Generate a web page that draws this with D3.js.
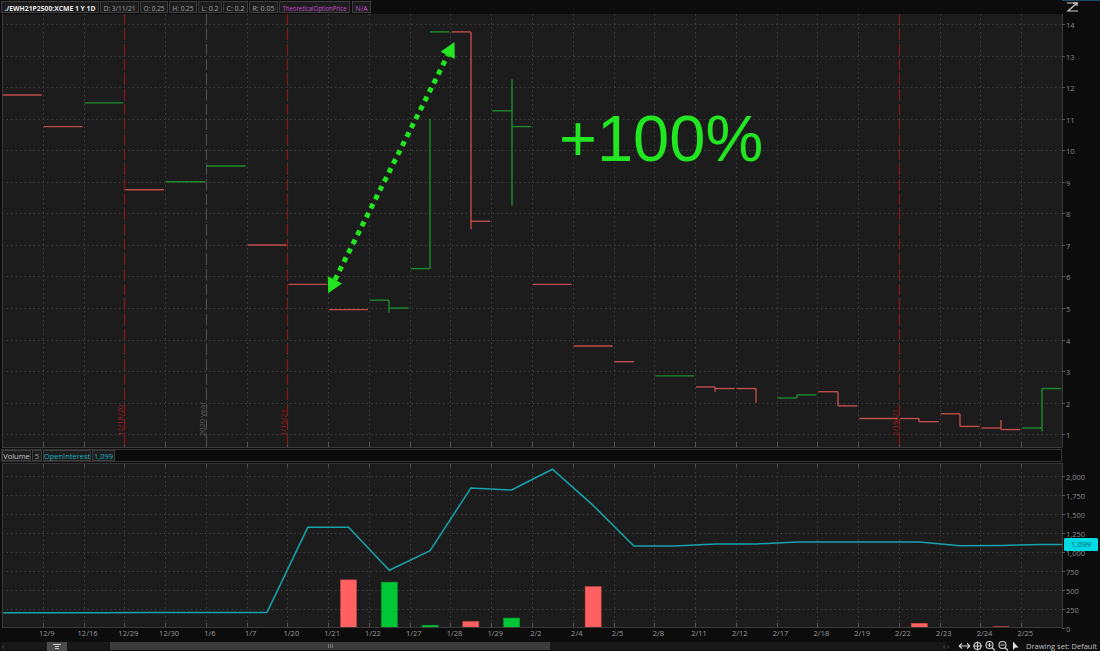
<!DOCTYPE html>
<html><head><meta charset="utf-8">
<script src="https://cdn.jsdelivr.net/npm/d3@7"></script>
<style>
body{margin:0;background:#0c0c0c;}
svg{display:block;font-family:"Open Sans","DejaVu Sans",sans-serif;}
</style>
</head><body>
<svg id="c" width="1100" height="651"></svg>
<script>
// ---------- DATA ----------
const dates = ["", "12/9","12/16","12/29","12/30","1/6","1/7","1/20","1/21","1/22","1/27","1/28","1/29","2/2","2/4","2/5","2/8","2/11","2/12","2/17","2/18","2/19","2/22","2/23","2/24","2/25"];
const opens  = [11.75,10.75,11.5,8.75,9.0,9.5,7.0,5.75,4.95,5.25,6.25,13.75,11.25,5.75,3.8,3.3,2.85,2.5,2.45,2.15,2.35,1.5,1.5,1.65,1.2,1.2];
const highs  = [11.75,10.75,11.5,8.75,9.0,9.5,7.0,5.75,4.95,5.25,11.0,13.75,12.25,5.75,3.8,3.3,2.85,2.5,2.45,2.25,2.35,1.5,1.5,1.65,1.45,2.45];
const lows   = [11.75,10.75,11.5,8.75,9.0,9.5,7.0,5.75,4.95,4.85,6.25,7.5,8.25,5.75,3.8,3.3,2.85,2.35,2.0,2.15,1.9,1.5,1.4,1.25,1.15,1.1];
const closes = [11.75,10.75,11.5,8.75,9.0,9.5,7.0,5.75,4.95,5.0,13.75,7.75,10.75,5.75,3.8,null,2.85,2.45,null,2.25,1.9,1.5,1.4,1.25,1.15,2.45];
const upDay  = [0,0,1,0,1,1,0,0,0,1,1,0,1,0,0,0,1,0,0,1,0,0,0,0,0,1];
const volumes = [0,0,0,0,0,0,0,0,630,600,30,80,125,0,540,0,0,0,0,0,0,0,55,0,10,0];
const openInterest = [195,195,195,198,200,200,200,1325,1325,757,1016,1845,1819,2093,1615,1078,1078,1105,1105,1130,1130,1130,1130,1080,1085,1099];
const priceTicks = [1,2,3,4,5,6,7,8,9,10,11,12,13,14];
const volumeTicks = [0,250,500,750,1000,1250,1500,1750,2000];
const markerBoundaries = [3,5,7,22];
const markerLabels = ["12/18/20","2020 year","1/15/21","2/19/21"];
const markerKinds = ["exp","year","exp","exp"];
const arrowFrom = {slot:8, value:5.47};
const arrowTo = {slot:11, value:13.43};

// ---------- SETUP ----------
const svg = d3.select("#c");
const W = 1100, H = 651;
const plotL = 2, plotR = 1062;
const mainTop = 14, mainBot = 447;
const volTop = 463, volBot = 627;

const idx = d3.range(dates.length);
const x = d3.scaleBand().domain(idx).range([plotL, plotR]).padding(0);
const bw = x.bandwidth();
const y = d3.scaleLinear().domain([1,14]).range([434.3, 24]);
const yv = d3.scaleLinear().domain([0,2000]).range([627.5, 476.3]);

const RED = "#c04c4c", GREEN = "#1c8c2c";
const VRED = "#ff6161", VGREEN = "#00c736";

svg.append("rect").attr("width",W).attr("height",H).attr("fill","#0c0c0c");

// ---------- HEADER ----------
const hdr = svg.append("g");
const hdrItems = [
  {t:"./EWH21P2500:XCME 1 Y 1D", x0:1, x1:99, c:"#e8e8e8", b:true, fs:7.6},
  {t:"D: 3/11/21", x0:100, x1:139, c:"#a0a0a0", fs:7.6},
  {t:"O: 0.25", x0:140, x1:168, c:"#a0a0a0", fs:7.6},
  {t:"H: 0.25", x0:169, x1:197, c:"#a0a0a0", fs:7.6},
  {t:"L: 0.2", x0:198, x1:222, c:"#a0a0a0", fs:7.6},
  {t:"C: 0.2", x0:223, x1:248, c:"#a0a0a0", fs:7.6},
  {t:"R: 0.05", x0:249, x1:278, c:"#a0a0a0", fs:7.6},
  {t:"TheoreticalOptionPrice", x0:279, x1:350, c:"#c84fd0", fs:6.8},
  {t:"N/A", x0:352, x1:371, c:"#c84fd0", fs:7.6}
];
hdrItems.forEach(d=>{
  hdr.append("rect").attr("x",d.x0+0.5).attr("y",1.5).attr("width",d.x1-d.x0-1).attr("height",11)
    .attr("fill","#1d1d1d").attr("stroke","#3c3c3c");
  hdr.append("text").attr("x",(d.x0+d.x1)/2).attr("y",10.5).attr("text-anchor","middle")
    .attr("font-size", d.fs).attr("font-weight", d.b?"bold":"normal").attr("fill",d.c)
    .attr("textLength", d.x1-d.x0-7).attr("lengthAdjust","spacingAndGlyphs").text(d.t);
});
const ic = svg.append("g").attr("stroke","#cfcfcf").attr("stroke-width",1.2).attr("fill","none");
ic.append("path").attr("d","M1067,3 H1077 L1068,11 H1078");
ic.append("path").attr("d","M1073,3 H1077 V6");
svg.append("line").attr("x1",1062).attr("x2",1100).attr("y1",0.5).attr("y2",0.5).attr("stroke","#1d4c66");

// ---------- MAIN PANEL ----------
svg.append("rect").attr("x",plotL).attr("y",mainTop).attr("width",plotR-plotL).attr("height",mainBot-mainTop)
  .attr("fill","#1c1c1c");
const grid = svg.append("g").attr("stroke","#3f3f3f").attr("stroke-dasharray","1.5 3").attr("stroke-width",1);
priceTicks.forEach(v=>{
  grid.append("line").attr("x1",plotL).attr("x2",plotR).attr("y1",Math.round(y(v))+0.5).attr("y2",Math.round(y(v))+0.5);
});
idx.slice(1).forEach(i=>{
  grid.append("line").attr("x1",Math.round(x(i))+0.5).attr("x2",Math.round(x(i))+0.5).attr("y1",mainTop).attr("y2",mainBot);
});
idx.slice(1).forEach(i=>{
  svg.append("line").attr("x1",Math.round(x(i))+0.5).attr("x2",Math.round(x(i))+0.5).attr("y1",mainBot-5).attr("y2",mainBot)
    .attr("stroke","#555");
});

markerBoundaries.forEach((b,k)=>{
  const xx = Math.round(x(b))+0.5;
  const exp = markerKinds[k]==="exp";
  svg.append("line").attr("x1",xx).attr("x2",xx).attr("y1",mainTop).attr("y2",mainBot)
    .attr("stroke",exp ? "#8a1616" : "#4c4c4c").attr("stroke-width",1.2).attr("stroke-dasharray","11 4");
  svg.append("text").attr("transform",`translate(${xx-2},436) rotate(-90)`)
    .attr("font-size",7.5).attr("fill", exp ? "#9a1c1c" : "#5e5e5e").text(markerLabels[k]);
});

const bars = svg.append("g").attr("stroke-width",1.4).attr("fill","none");
idx.forEach(i=>{
  const x0 = x(i), mid = Math.round(x0 + bw/2), col = upDay[i] ? GREEN : RED;
  const o = opens[i], c = closes[i], h = highs[i], l = lows[i];
  if (c !== null && o === c && h === l) {
    bars.append("line").attr("x1",x0+1).attr("x2",x0+bw-1).attr("y1",y(o)).attr("y2",y(o)).attr("stroke",col);
    return;
  }
  bars.append("line").attr("x1",x0+1).attr("x2",mid).attr("y1",y(o)).attr("y2",y(o)).attr("stroke",col);
  if (h !== l) bars.append("line").attr("x1",mid).attr("x2",mid).attr("y1",y(h)).attr("y2",y(l)).attr("stroke",col);
  if (c !== null) bars.append("line").attr("x1",mid).attr("x2",x0+bw-1).attr("y1",y(c)).attr("y2",y(c)).attr("stroke",col);
});

const AG = "#22e622";
const p1 = [x(arrowFrom.slot), y(arrowFrom.value)], p2 = [x(arrowTo.slot)+4, y(arrowTo.value)];
const dx = p2[0]-p1[0], dy = p2[1]-p1[1], L = Math.hypot(dx,dy), ux = dx/L, uy = dy/L, nx = -uy, ny = ux;
const ah = 15, aw = 8;
svg.append("line").attr("x1",p1[0]+ux*ah).attr("y1",p1[1]+uy*ah).attr("x2",p2[0]-ux*ah).attr("y2",p2[1]-uy*ah)
  .attr("stroke",AG).attr("stroke-width",5).attr("stroke-dasharray","5 5");
function head(tip, dir){
  const bx = tip[0]-dir[0]*ah, by = tip[1]-dir[1]*ah;
  svg.append("polygon").attr("points",[[tip[0],tip[1]],[bx+nx*aw,by+ny*aw],[bx-nx*aw,by-ny*aw]].map(p=>p.join(",")).join(" "))
    .attr("fill",AG);
}
head(p2,[ux,uy]);
head(p1,[-ux,-uy]);

svg.append("text").attr("x",559).attr("y",161).attr("font-family","'Liberation Sans',Arial,sans-serif")
  .attr("font-size",65).attr("fill",AG).text("+100%");

svg.append("line").attr("x1",plotR+0.5).attr("x2",plotR+0.5).attr("y1",mainTop).attr("y2",mainBot).attr("stroke","#3a3a3a");
priceTicks.forEach(v=>{
  const yy = Math.round(y(v))+0.5;
  svg.append("line").attr("x1",plotR).attr("x2",plotR+3).attr("y1",yy).attr("y2",yy).attr("stroke","#555");
  svg.append("text").attr("x",plotR+4).attr("y",yy+3).attr("font-size",7.5).attr("fill","#8a8a8a").text(v);
});
svg.append("line").attr("x1",plotL).attr("x2",plotR).attr("y1",mainBot+0.5).attr("y2",mainBot+0.5).attr("stroke","#3a3a3a");
svg.append("line").attr("x1",plotL+0.5).attr("x2",plotL+0.5).attr("y1",mainTop).attr("y2",mainBot).attr("stroke","#3a3a3a");

// ---------- VOLUME HEADER ----------
svg.append("rect").attr("x",1.5).attr("y",449.5).attr("width",plotR-2).attr("height",12).attr("fill","#0b0b0b").attr("stroke","#333");
const vh = [
  {t:"Volume", x0:2, x1:31, c:"#c8c8c8"},
  {t:"5", x0:32, x1:42, c:"#a0a0a0"},
  {t:"OpenInterest", x0:43, x1:91, c:"#19b2bd"},
  {t:"1,099", x0:92, x1:115, c:"#19b2bd"}
];
vh.forEach(d=>{
  svg.append("rect").attr("x",d.x0+0.5).attr("y",450.5).attr("width",d.x1-d.x0-1).attr("height",10)
    .attr("fill","#1d1d1d").attr("stroke","#3c3c3c");
  svg.append("text").attr("x",(d.x0+d.x1)/2).attr("y",458.5).attr("text-anchor","middle").attr("font-size",7.5)
    .attr("fill",d.c).text(d.t);
});

// ---------- VOLUME PANEL ----------
svg.append("rect").attr("x",plotL).attr("y",volTop).attr("width",plotR-plotL).attr("height",volBot-volTop).attr("fill","#1c1c1c");
const vgrid = svg.append("g").attr("stroke","#3f3f3f").attr("stroke-dasharray","1.5 3");
volumeTicks.slice(1).forEach(v=>{
  vgrid.append("line").attr("x1",plotL).attr("x2",plotR).attr("y1",Math.round(yv(v))+0.5).attr("y2",Math.round(yv(v))+0.5);
});
idx.slice(1).forEach(i=>{
  vgrid.append("line").attr("x1",Math.round(x(i))+0.5).attr("x2",Math.round(x(i))+0.5).attr("y1",volTop).attr("y2",volBot);
  svg.append("line").attr("x1",Math.round(x(i))+0.5).attr("x2",Math.round(x(i))+0.5).attr("y1",volTop).attr("y2",volTop+4).attr("stroke","#555");
  svg.append("line").attr("x1",Math.round(x(i))+0.5).attr("x2",Math.round(x(i))+0.5).attr("y1",volBot-4).attr("y2",volBot).attr("stroke","#555");
});
idx.forEach(i=>{
  if (!volumes[i]) return;
  const cx = x(i)+bw/2, w = 16;
  const top = yv(volumes[i]);
  svg.append("rect").attr("x",cx-w/2).attr("y",top).attr("width",w).attr("height",yv(0)-top)
    .attr("fill",upDay[i]?VGREEN:VRED).attr("stroke",upDay[i]?"#00a02a":"#d04848").attr("stroke-width",0.6);
});
const oiPts = [[x(0), openInterest[0]]].concat(idx.map(i=>[x(i)+bw/2, openInterest[i]]))
  .concat([[plotR, openInterest[openInterest.length-1]]]);
svg.append("path").attr("d", d3.line().x(d=>d[0]).y(d=>yv(d[1]))(oiPts))
  .attr("fill","none").attr("stroke","#17a2ac").attr("stroke-width",1.5);

svg.append("line").attr("x1",plotR+0.5).attr("x2",plotR+0.5).attr("y1",volTop).attr("y2",volBot).attr("stroke","#3a3a3a");
volumeTicks.forEach(v=>{
  const yy = Math.round(yv(v))+0.5;
  svg.append("line").attr("x1",plotR).attr("x2",plotR+3).attr("y1",yy).attr("y2",yy).attr("stroke","#555");
  svg.append("text").attr("x",plotR+4).attr("y",yy+3).attr("font-size",7.5).attr("fill","#8a8a8a").text(d3.format(",")(v));
});
const lastOI = openInterest[openInterest.length-1];
svg.append("rect").attr("x",plotR+2).attr("y",yv(lastOI)-6.5).attr("width",34).attr("height",13).attr("rx",1.5).attr("fill","#00dbe3");
svg.append("text").attr("x",plotR+19).attr("y",yv(lastOI)+3).attr("text-anchor","middle").attr("font-size",8)
  .attr("fill","#0a5e78").text(d3.format(",")(lastOI));
svg.append("line").attr("x1",plotL).attr("x2",plotR).attr("y1",volBot+0.5).attr("y2",volBot+0.5).attr("stroke","#3a3a3a");
svg.append("line").attr("x1",plotL+0.5).attr("x2",plotL+0.5).attr("y1",volTop).attr("y2",volBot).attr("stroke","#3a3a3a");
svg.append("line").attr("x1",plotL).attr("x2",plotR).attr("y1",volTop+0.5).attr("y2",volTop+0.5).attr("stroke","#333");

// ---------- DATE AXIS ----------
idx.forEach(i=>{
  if (!dates[i]) return;
  svg.append("text").attr("x",x(i)+4).attr("y",636).attr("text-anchor","middle").attr("font-size",7.5)
    .attr("fill","#9c9c9c").text(dates[i]);
});

// ---------- SCROLL BAR / TOOLBAR ----------
svg.append("rect").attr("x",0).attr("y",641).attr("width",W).attr("height",10).attr("fill","#0e0e0e");
svg.append("rect").attr("x",1).attr("y",642).attr("width",945).attr("height",8).attr("fill","#181818");
svg.append("text").attr("x",2).attr("y",649).attr("font-size",7).attr("fill","#666").text("‹");
svg.append("rect").attr("x",47).attr("y",642).attr("width",20).attr("height",9).attr("fill","#4b4b4b");
svg.append("path").attr("d","M53,644.5 H61 M55,646.5 H59 M55,648.5 H59").attr("stroke","#d0d0d0").attr("stroke-width",1);
svg.append("rect").attr("x",110).attr("y",642).attr("width",440).attr("height",8).attr("fill","#3b3b3b");
svg.append("path").attr("d","M328.5,644 V648 M330.5,644 V648 M332.5,644 V648").attr("stroke","#777");
svg.append("text").attr("x",943).attr("y",649).attr("font-size",7).attr("fill","#777").text("‹  ›");
const tb = svg.append("g").attr("stroke","#cfcfcf").attr("fill","none").attr("stroke-width",1.1);
tb.append("path").attr("d","M959,646 H970 M959,646 l3,-2.5 M959,646 l3,2.5 M970,646 l-3,-2.5 M970,646 l-3,2.5");
tb.append("circle").attr("cx",977.5).attr("cy",646).attr("r",3.5);
tb.append("path").attr("d","M977.5,641.5 V650.5 M973,646 H982");
tb.append("circle").attr("cx",989.5).attr("cy",645).attr("r",3.5);
tb.append("path").attr("d","M992,647.5 L995,650.5 M987.5,645 H991.5 M989.5,643 V647");
tb.append("circle").attr("cx",1002.5).attr("cy",645).attr("r",3.5);
tb.append("path").attr("d","M1005,647.5 L1008,650.5 M1000.5,645 H1004.5");
svg.append("path").attr("d","M1013,641.5 L1013,650 L1015.5,647.5 L1018.5,647.5 Z").attr("fill","#e0e0e0");
svg.append("text").attr("x",1097).attr("y",649).attr("text-anchor","end").attr("font-size",7.5).attr("fill","#c0c0c0")
  .text("Drawing set: Default");
</script>
</body></html>
